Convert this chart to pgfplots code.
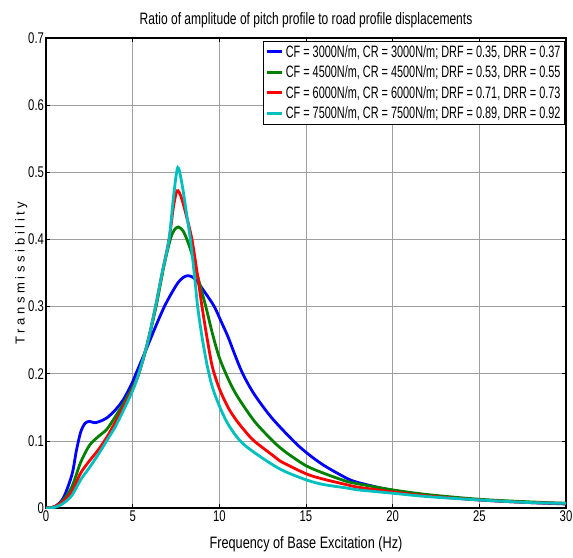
\documentclass[border=0pt]{standalone}
\usepackage{fontspec}
\setmainfont{Liberation Sans}
\newfontfamily\nft[FakeStretch=0.73]{Liberation Sans}
\newfontfamily\nfk[FakeStretch=0.73]{Liberation Sans}
\newfontfamily\nfl[FakeStretch=0.66]{Liberation Sans}
\newfontfamily\nfx[FakeStretch=0.77]{Liberation Sans}
\newfontfamily\nfy[LetterSpace=28]{Liberation Sans}
\usepackage{pgfplots}
\usepackage{pgfplotstable}
\pgfplotsset{compat=1.18}
\definecolor{mblue}{rgb}{0,0,1}
\definecolor{mgreen}{rgb}{0,0.5,0}
\definecolor{mred}{rgb}{1,0,0}
\definecolor{mcyan}{rgb}{0,0.75,0.75}

\pgfplotstableread{
f T
0 0
0.5 0.002
1 0.015
1.5 0.05
1.75 0.085
2 0.113
2.25 0.126
2.5 0.129
2.8 0.127
3.1 0.129
3.5 0.134
4 0.146
4.5 0.163
5 0.188
5.19 0.2
5.6 0.225
6 0.25
6.4 0.275
6.83 0.3
7.2 0.318
7.6 0.335
7.9 0.343
8.17 0.346
8.45 0.344
8.7 0.338
9.2 0.32
9.71 0.3
10.1 0.278
10.5 0.255
10.9 0.228
11.35 0.2
12 0.17
13 0.135
14.27 0.1
15 0.083
16 0.064
17.3 0.045
18 0.038
20 0.026
22 0.019
25 0.012
28 0.008
30 0.006
}\blue

\pgfplotstableread{
f T
0 0
0.5 0.002
1 0.012
1.5 0.032
2 0.068
2.5 0.093
3 0.106
3.5 0.117
4 0.136
4.5 0.157
5 0.18
5.35 0.2
5.85 0.245
6.35 0.3
6.8 0.36
7.17 0.4
7.4 0.414
7.63 0.4185
7.9 0.413
8.13 0.4
8.4 0.38
8.7 0.35
9.22 0.3
9.6 0.26
10 0.224
10.5 0.193
11 0.168
12 0.13
13 0.102
13.5 0.09
14 0.08
15 0.063
16 0.052
17.3 0.04
18 0.036
20 0.027
22 0.02
25 0.013
28 0.009
30 0.007
}\green

\pgfplotstableread{
f T
0 0
0.5 0.002
1 0.01
1.5 0.025
2 0.052
2.5 0.07
3 0.086
3.5 0.105
4 0.128
4.5 0.152
5 0.177
5.35 0.2
5.85 0.245
6.32 0.3
6.7 0.35
7.1 0.4
7.35 0.448
7.56 0.4725
7.8 0.463
8.1 0.435
8.42 0.4
8.72 0.35
9.0 0.3
9.3 0.252
9.6 0.21
10 0.178
10.5 0.15
11 0.13
11.5 0.114
12 0.1
13 0.08
13.5 0.07
15 0.051
16 0.043
17.3 0.035
18 0.031
20 0.024
22 0.018
25 0.012
28 0.008
30 0.007
}\red

\pgfplotstableread{
f T
0 0
0.5 0.001
1 0.007
1.5 0.019
2 0.042
2.5 0.06
3 0.079
3.5 0.1
4 0.121
4.5 0.147
5 0.175
5.35 0.2
5.85 0.245
6.32 0.3
6.7 0.35
7.1 0.4
7.35 0.462
7.6 0.507
7.85 0.482
8.1 0.44
8.33 0.4
8.55 0.35
8.75 0.3
9.0 0.255
9.3 0.212
9.6 0.18
10 0.152
10.5 0.125
11.2 0.1
12 0.083
13.5 0.058
15 0.042
16 0.035
17.3 0.03
18 0.027
20 0.022
22 0.017
25 0.012
28 0.008
30 0.007
}\cyan

\begin{document}
\begin{tikzpicture}
\begin{axis}[
  scale only axis, width=520pt, height=470pt,
  xmin=0, xmax=30, ymin=0, ymax=0.7,
  xtick={0,5,...,30}, ytick={0,0.1,...,0.7},
  yticklabel style={/pgf/number format/fixed, /pgf/number format/precision=1, xshift=1.5pt},
  xticklabel style={yshift=1pt},
  /pgf/number format/assume math mode=true,
  ticklabel style={font=\nfk\fontsize{15.5}{15.5}\selectfont},
  tick align=inside, major tick length=4pt, tick style={black, line width=0.6pt},
  grid=major, grid style={gray!75, line width=0.6pt},
  axis line style={black, line width=1.2pt},
  title={\nft\fontsize{16.5}{16.5}\selectfont Ratio of amplitude of pitch profile to road profile displacements},
  title style={yshift=1pt},
  xlabel={\nfx\fontsize{16.5}{16.5}\selectfont Frequency of Base Excitation (Hz)},
  xlabel style={yshift=-8pt},
  ylabel={\nfy\fontsize{13}{13}\selectfont Transmissibility},
  ylabel style={yshift=-6pt},
  legend style={at={(0.998,0.994)}, anchor=north east, draw=black, line width=0.8pt,
    font=\nfl\fontsize{16.5}{16.5}\selectfont, row sep=3pt, inner sep=2pt,
    cells={anchor=west}},
  legend image code/.code={\draw[#1, line width=3pt] (0,0) -- (0.55cm,0);},
  every axis plot/.append style={line width=2.8pt, smooth},
]
\addplot[mblue] table[x=f, y=T] {\blue};
\addplot[mgreen] table[x=f, y=T] {\green};
\addplot[mred] table[x=f, y=T] {\red};
\addplot[mcyan] table[x=f, y=T] {\cyan};
\legend{CF = 3000N/m{,} CR = 3000N/m; DRF = 0.35{,} DRR = 0.37,
        CF = 4500N/m{,} CR = 4500N/m; DRF = 0.53{,} DRR = 0.55,
        CF = 6000N/m{,} CR = 6000N/m; DRF = 0.71{,} DRR = 0.73,
        CF = 7500N/m{,} CR = 7500N/m; DRF = 0.89{,} DRR = 0.92}
\end{axis}
\pgfresetboundingbox
\path (current axis.south west) ++(-46pt,-49pt) rectangle ++(573pt,557pt);
\end{tikzpicture}
\end{document}
